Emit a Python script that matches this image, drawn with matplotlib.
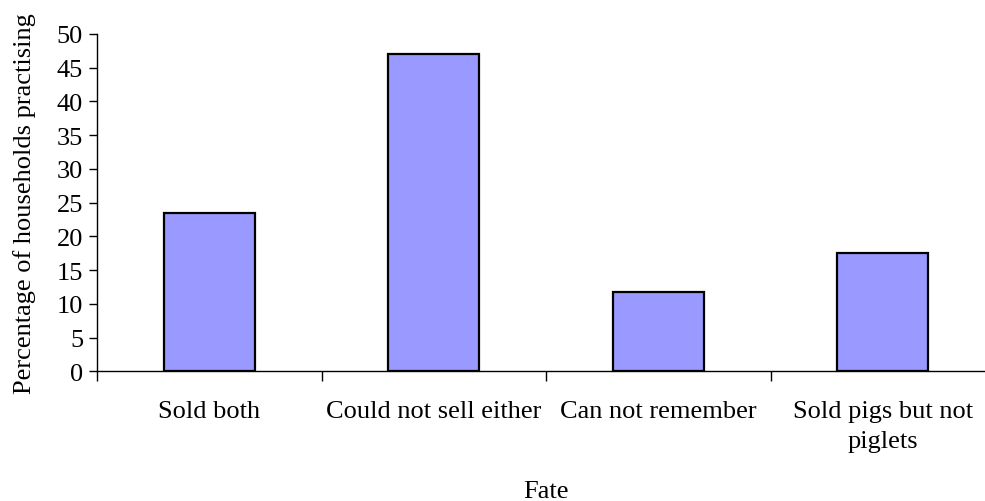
import matplotlib
matplotlib.use("Agg")
import matplotlib.pyplot as plt
import numpy as np

categories = ["Sold both", "Could not sell either", "Can not remember", "Sold pigs but not\npiglets"]
values = [23.5, 47.1, 11.8, 17.6]
y_ticks = [0, 5, 10, 15, 20, 25, 30, 35, 40, 45, 50]

plt.rcParams["font.family"] = ["Liberation Serif", "DejaVu Serif"]

fig = plt.figure(figsize=(9.85, 5.02), dpi=100)
ax = fig.add_axes([97 / 985, 129.7 / 502, 898 / 985, 337.3 / 502])

x = np.arange(len(categories))
ax.bar(x, values, width=0.405, color="#9999FF", edgecolor="black", linewidth=1.6, zorder=3)

ax.set_xlim(-0.5, len(categories) - 0.5)
ax.set_ylim(0, 50)
ax.set_yticks(y_ticks)
ax.tick_params(axis="y", direction="out", length=6, width=1, labelsize=19, pad=4)

# Category boundaries carry tick marks; labels sit at category centres
ax.set_xticks(np.arange(-0.5, len(categories) - 0.5, 1.0))
ax.set_xticklabels([])
ax.tick_params(axis="x", which="major", direction="out", length=7, width=1)
ax.set_xticks(x, minor=True)
ax.set_xticklabels(categories, minor=True, fontsize=19, linespacing=1.45)
ax.tick_params(axis="x", which="minor", length=0, pad=21)

for side in ("top", "right"):
    ax.spines[side].set_visible(False)
ax.spines["left"].set_linewidth(1.0)
ax.spines["bottom"].set_linewidth(1.0)

ax.set_ylabel("Percentage of households practising", fontsize=19, labelpad=15)
fig.text(546 / 985, 1 - 492 / 502, "Fate", fontsize=19, ha="center", va="center")

fig.savefig("out.png", dpi=100)
